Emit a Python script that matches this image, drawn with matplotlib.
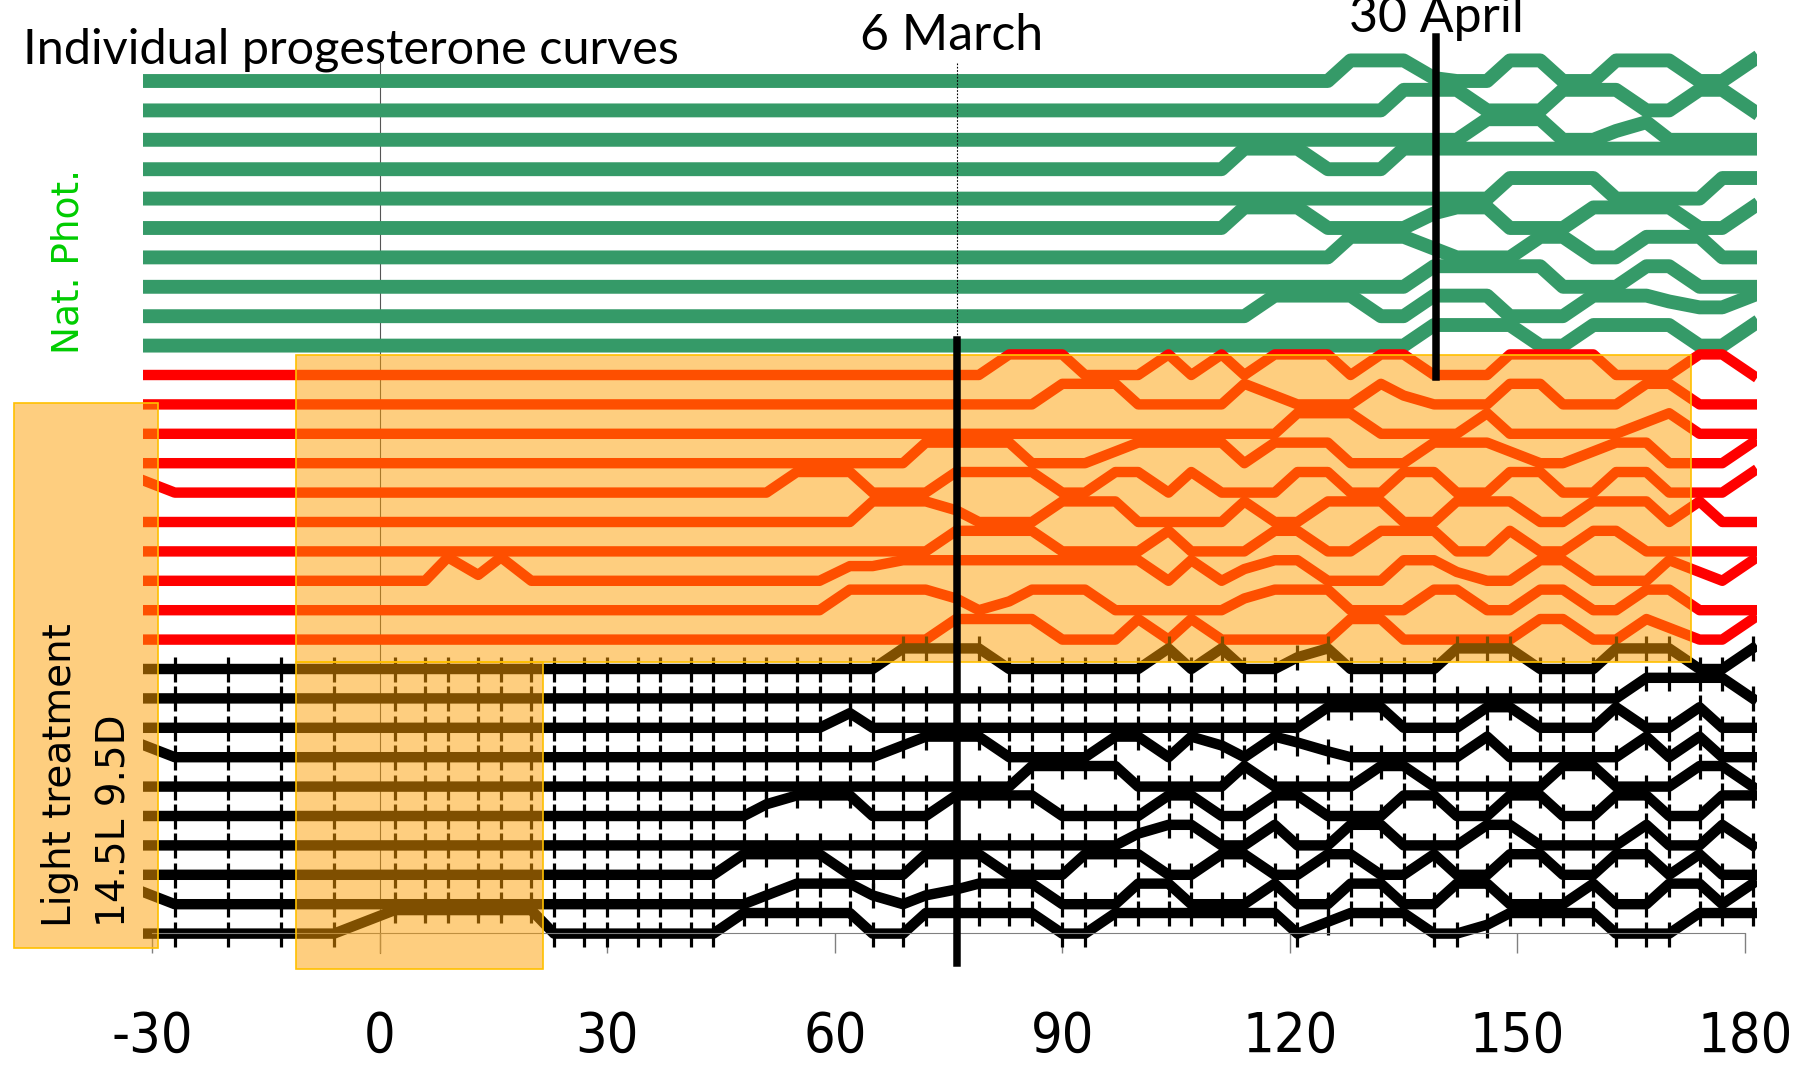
import matplotlib.pyplot as plt
from matplotlib.patches import Rectangle

# sampling days: weekly before the light treatment, then twice a week
days = [-34, -27, -20, -13, -6, 2, 6, 9, 13, 16, 20, 23, 27, 30, 34, 37, 41, 44,
        48, 51, 55, 58, 62, 65, 69, 72, 76, 79, 83, 86, 90, 93, 97, 100, 104,
        107, 111, 114, 118, 121, 125, 128, 132, 135, 139, 142, 146, 149, 153,
        156, 160, 163, 167, 170, 174, 177, 181]

# progesterone level of each animal at each sample, in tenths of a row
Z = "0000000000"
green_curves = [
    Z + Z + Z + Z + "0777100770" "0777007",
    Z + Z + Z + Z + "0007770007" "7700770",
    Z + Z + Z + Z + "0000007770" "0360000",
    Z + Z + Z + "0000000777" "0007777777" "7777777",
    Z + Z + Z + Z + "0000000777" "7000077",
    Z + Z + Z + "0000000777" "0000577000" "7777007",
    Z + Z + Z + Z + "0777300077" "0077700",
    Z + Z + Z + Z + "0000777770" "0077000",
    Z + Z + Z + "0000000077" "7700777000" "7775337",
    Z + Z + Z + Z + "0000777700" "7777007",
]
red_curves = [
    Z + Z + "0000000077" "7000707077" "7077000777" "7000770",
    Z + Z + Z + "7770000730" "0073000770" "0077000",
    Z + Z + Z + "0000000007" "7700007000" "0047000",
    Z + Z + "0000077770" "0047777077" "7000777400" "4770007",
    "7000000000" + Z + "7770007777" "0077070007" "7007700770" "0770007",
    Z + Z + "0007774000" "7770000700" "7770077700" "7770700",
    Z + Z + "0000007777" "0000700077" "0077700700" "7700000",
    "0000000828" + Z + "0055777777" "7777070477" "0007730077" "0007307",
    Z + Z + "0077774037" "7700000477" "7000770077" "0077000",
    Z + Z + "0000007777" "0007070000" "0770000077" "0074007",
]
black_curves = [
    Z + Z + "0000777700" "0000707004" "7000077700" "0777007",
    Z + Z + Z + Z + Z + "0077770",
    Z + Z + "0050000000" + Z + "7770007700" "0700700",
    "7000000000" + Z + "0000477700" "0077074075" "2000007000" "0070700",
    Z + Z + "0000000007" "7770000700" "0077000007" "7000770",
    Z + "0000000004" "7770007777" "0000770077" "0007700770" "0770077",
    Z + Z + Z + "0004770070" "0770007700" "0070070",
    Z + "0000000077" "7700077700" "0777007700" "7700700770" "0770700",
    "7000000000" "0000000003" "7773035777" "0007700070" "0770077000" "7007707",
    "0000088888" "8000000077" "7770077777" "0077777770" "4777003777" "7000777",
]

xticks = [-30, 0, 30, 60, 90, 120, 150, 180]
march6 = 76.1
april30 = 139.3
light_start, light_end = -11, 172.9
short_end = 21.5


def day(px):
    return -30 + (px - 152) / 7.586


def row(py):
    return (py - 81) / 29.4


W, H = 1806, 1067
fig = plt.figure(figsize=(W / 100, H / 100), dpi=100)
ax = fig.add_axes([0, 0, 1, 1])
ax.set_xlim(day(0), day(W))
ax.set_ylim(row(H), row(0))

clip = Rectangle((day(143), row(0)), day(1757) - day(143), row(H) - row(0),
                 transform=ax.transData)

groups = [(green_curves, '#359a68', 10, 0), (red_curves, '#ff0000', 7.5, 10),
          (black_curves, 'black', 7.5, 20)]
for curves, col, lw, first in groups:
    for k, s in enumerate(curves):
        vals = [int(c) for c in s]
        y = [first + k - v / 10 for v in vals]
        if col == 'black':
            ln, = ax.plot(days, y, color=col, lw=lw, marker='|', ms=18, mew=2.3,
                          zorder=2)
        else:
            ln, = ax.plot(days, y, color=col, lw=lw, zorder=2)
        ln.set_clip_path(clip)

# day 0 reference and date markers
ax.plot([0, 0], [row(63), row(953)], color='#555555', lw=0.8, zorder=1)
ax.plot([march6, march6], [row(63), row(340)], color='black', lw=0.8,
        ls=(0, (1.5, 1.5)), zorder=4)
ax.plot([march6, march6], [row(340), row(963)], color='black', lw=5.4, zorder=5)
ax.plot([april30, april30], [row(37), row(377)], color='black', lw=5.4, zorder=5)

# light treatment boxes
fill = (254 / 255, 158 / 255, 0, 0.5)
edge = '#ffc000'
ax.add_patch(Rectangle((light_start, row(355)), light_end - light_start,
                       row(662) - row(355), facecolor=fill, edgecolor=edge,
                       lw=1.2, zorder=3))
ax.add_patch(Rectangle((light_start, row(662)), short_end - light_start,
                       row(969) - row(662), facecolor=fill, edgecolor=edge,
                       lw=1.2, zorder=3))
ax.add_patch(Rectangle((day(14), row(403)), day(158) - day(14),
                       row(948) - row(403), facecolor=fill, edgecolor=edge,
                       lw=1.2, zorder=3, clip_on=False))

# x axis
for side in ['top', 'left', 'right']:
    ax.spines[side].set_visible(False)
ax.spines['bottom'].set_position(('data', row(933)))
ax.spines['bottom'].set_bounds(-30, 180)
ax.spines['bottom'].set_color('#808080')
ax.set_yticks([])
ax.set_xticks(xticks)
ax.set_xticklabels([str(t) for t in xticks], fontsize=40,
                   family='DejaVu Sans', fontstretch='condensed')
ax.tick_params(axis='x', direction='out', length=14.4, width=1, color='#808080',
               pad=41)


def fx(px):
    return px / W


def fy(py):
    return 1 - py / H


fig.text(fx(23), fy(63), 'Individual progesterone curves', fontsize=35,
         family='Lato', ha='left', va='baseline')
fig.text(fx(952), fy(50), '6 March', fontsize=36, family='Lato',
         ha='center', va='baseline')
fig.text(fx(1436), fy(32), '30 April', fontsize=36, family='Lato',
         ha='center', va='baseline')
fig.text(fx(69), fy(262), 'Nat. Phot.', fontsize=27, color='#00cc00',
         rotation=90, ha='center', va='center')
fig.text(fx(60), fy(927), 'Light treatment', fontsize=28, rotation=90,
         ha='center', va='bottom', zorder=6)
fig.text(fx(115), fy(927), '14.5L 9.5D', fontsize=28, rotation=90,
         ha='center', va='bottom', zorder=6)

fig.savefig('out.png', dpi=100)
